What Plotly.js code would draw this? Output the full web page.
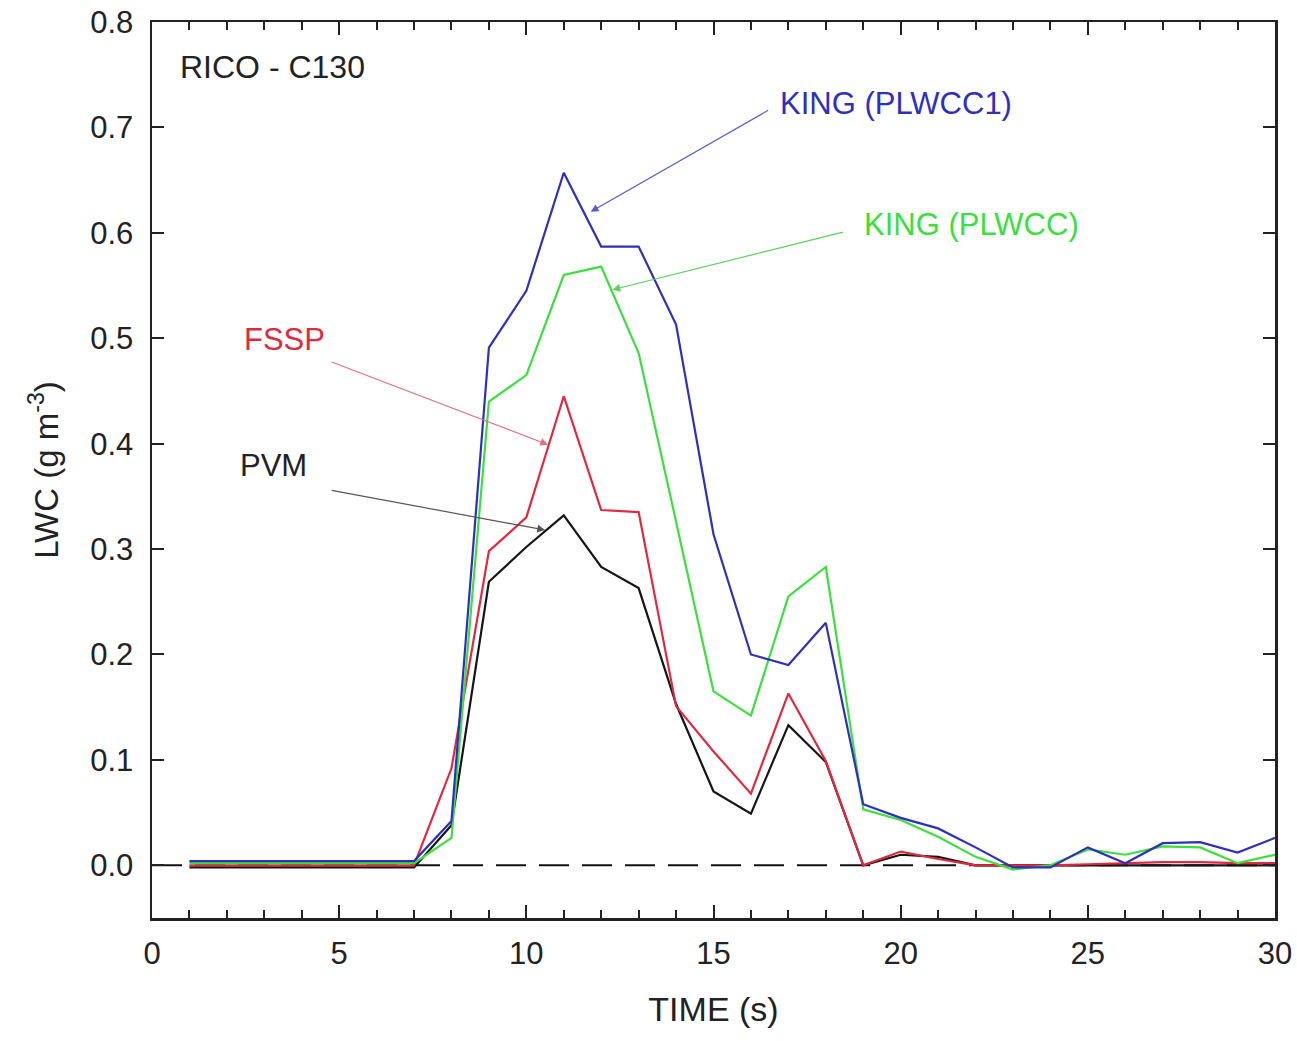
<!DOCTYPE html>
<html><head><meta charset="utf-8">
<script src="https://cdn.plot.ly/plotly-3.0.1.min.js"></script>
<style>html,body{margin:0;padding:0;background:#fff;}#chart{width:1297px;height:1041px;}</style>
</head><body><div id="chart"></div>
<script>
const time = [1,2,3,4,5,6,7,8,9,10,11,12,13,14,15,16,17,18,19,20,21,22,23,24,25,26,27,28,29,30];
const kingPlwcc1 = [0.004,0.004,0.004,0.004,0.004,0.004,0.004,0.042,0.491,0.545,0.657,0.587,0.587,0.513,0.314,0.200,0.190,0.230,0.058,0.045,0.035,0.017,-0.002,-0.002,0.017,0.002,0.021,0.022,0.012,0.026];
const kingPlwcc = [0.002,0.002,0.002,0.002,0.002,0.002,0.002,0.026,0.440,0.465,0.560,0.568,0.486,0.326,0.165,0.142,0.255,0.283,0.053,0.043,0.027,0.008,-0.004,0.000,0.015,0.010,0.018,0.017,0.002,0.010];
const fssp = [0.000,0.000,0.000,0.000,0.000,0.000,0.000,0.092,0.298,0.330,0.445,0.337,0.335,0.151,0.108,0.068,0.163,0.099,0.000,0.013,0.006,0.000,0.000,0.000,0.001,0.002,0.003,0.003,0.002,0.002];
const pvm = [-0.002,-0.002,-0.002,-0.002,-0.002,-0.002,-0.002,0.038,0.269,0.302,0.332,0.283,0.263,0.153,0.070,0.049,0.133,0.098,0.000,0.010,0.008,0.000,0.000,0.000,0.000,0.000,0.000,0.000,0.000,0.000];
const zeroLine = {x:[0,30], y:[0,0]};

const BLUE = '#2f2fbf', GREEN = '#3ae03c', RED = '#e2283f', BLACK = '#151515';
const font = 'Arial, "Liberation Sans", sans-serif';

const traces = [
  {x: zeroLine.x, y: zeroLine.y, mode:'lines', line:{color:'#111', width:2, dash:'30px,13px'}, hoverinfo:'skip'},
  {x: time, y: pvm, mode:'lines', line:{color:BLACK, width:2.2}, name:'PVM'},
  {x: time, y: fssp, mode:'lines', line:{color:RED, width:2.2}, name:'FSSP'},
  {x: time, y: kingPlwcc, mode:'lines', line:{color:GREEN, width:2.2}, name:'KING (PLWCC)'},
  {x: time, y: kingPlwcc1, mode:'lines', line:{color:BLUE, width:2.2}, name:'KING (PLWCC1)'}
];

function arrow(x, y, ax, ay, color){
  return {x:x, y:y, ax:ax, ay:ay, xref:'x', yref:'y', axref:'x', ayref:'y', text:'', showarrow:true,
    arrowhead:2, arrowsize:1.3, arrowwidth:1.2, arrowcolor:color, standoff:0, startstandoff:0};
}
function label(x, y, text, color, size){
  return {x:x, y:y, xref:'x', yref:'y', text:text, showarrow:false, xanchor:'left', yanchor:'middle',
    font:{family:font, size:size||31, color:color}};
}

const annotations = [
  label(0.69, 0.757, 'RICO - C130', '#222', 32),
  label(16.72, 0.723, 'KING (PLWCC1)', BLUE),
  arrow(11.72, 0.620, 16.5, 0.717, '#5a5ad0'),
  label(18.97, 0.608, 'KING (PLWCC)', GREEN),
  arrow(12.3, 0.546, 18.5, 0.601, '#5ccf5c'),
  label(2.40, 0.499, 'FSSP', RED),
  arrow(10.58, 0.399, 4.76, 0.478, '#e07080'),
  label(2.30, 0.379, 'PVM', '#222'),
  arrow(10.5, 0.318, 4.76, 0.356, '#555')
];

const layout = {
  width:1297, height:1041,
  margin:{l:152, r:22, t:22, b:123},
  paper_bgcolor:'#fff', plot_bgcolor:'#fff',
  showlegend:false,
  font:{family:font, color:'#222'},
  xaxis:{range:[0,30], tick0:0, dtick:5, ticks:'inside', ticklen:13, tickwidth:2, tickcolor:'#222',
    minor:{dtick:1, ticks:'inside', ticklen:8, tickwidth:2, tickcolor:'#222'},
    showline:true, linewidth:2.5, linecolor:'#222', mirror:'allticks', showgrid:false, zeroline:false,
    tickfont:{family:font, size:31, color:'#222'}, ticklabelstandoff:6,
    title:{text:'TIME (s)', font:{family:font, size:34, color:'#222'}, standoff:28}},
  yaxis:{range:[-0.05,0.8], tick0:0, dtick:0.1, tickformat:'.1f', ticks:'inside', ticklen:12, tickwidth:2, tickcolor:'#222',
    showline:true, linewidth:2.5, linecolor:'#222', mirror:'allticks', showgrid:false, zeroline:false,
    tickfont:{family:font, size:31, color:'#222'}, ticklabelstandoff:10,
    title:{text:'LWC (g m<sup>-3</sup>)', font:{family:font, size:33, color:'#222'}, standoff:22}},
  annotations: annotations
};

Plotly.newPlot('chart', traces, layout, {staticPlot:true, displayModeBar:false});
</script>
</body></html>
